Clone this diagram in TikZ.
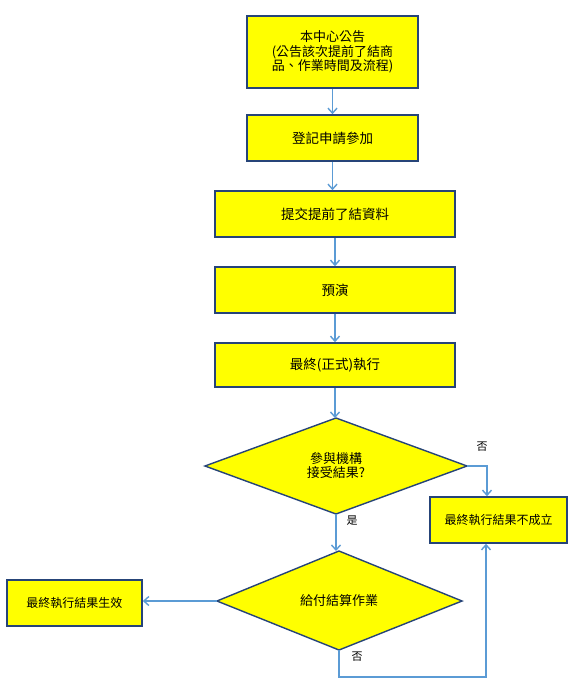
\documentclass[tikz,border=0pt]{standalone}
\usepackage{fontspec}
\newfontfamily\cjk{Noto Sans CJK TC}
\usetikzlibrary{arrows.meta,shapes.geometric}
\definecolor{boxfill}{RGB}{255,255,0}
\definecolor{boxline}{RGB}{38,68,120}
\definecolor{arrowc}{RGB}{91,155,213}
\tikzset{
  stepbox/.style={draw=boxline, fill=boxfill, line width=1.6pt, inner sep=0pt, font=\cjk\fontsize{13.5}{15}\selectfont, align=center},
  smallbox/.style={stepbox, font=\cjk\fontsize{12}{14}\selectfont},
  decide/.style={draw=boxline, fill=boxfill, line width=1.4pt},
  dtext/.style={font=\cjk\fontsize{13}{14}\selectfont, align=center},
  conn/.style={draw=arrowc, line width=1.6pt, -{Straight Barb[length=5pt,width=9pt,line width=1.4pt]}},
  lab/.style={font=\cjk\fontsize{11}{12}\selectfont}
}
\begin{document}
\begin{tikzpicture}[x=1pt,y=-1pt]
\useasboundingbox[fill=white] (0,0) rectangle (574,694);
\node[stepbox, font=\cjk\fontsize{13}{14.5}\selectfont, minimum width=171pt, minimum height=72pt] (a) at (332.5,52) {本中心公告\\(公告該次提前了結商\\品、作業時間及流程)};
\node[stepbox, minimum width=171pt, minimum height=46pt] (b) at (332.5,138) {登記申請參加};
\node[stepbox, minimum width=240pt, minimum height=46pt] (c) at (335,214) {提交提前了結資料};
\node[stepbox, minimum width=240pt, minimum height=46pt] (d) at (335,290) {預演};
\node[stepbox, minimum width=240pt, minimum height=44pt] (e) at (335,365) {最終(正式)執行};
\path[decide] (205,466) coordinate (d1w) -- (336,418) coordinate (d1n) -- (467,466) coordinate (d1e) -- (336,514) coordinate (d1s) -- cycle;
\node[dtext] (d1) at (336,466) {參與機構\\接受結果?};
\node[smallbox, minimum width=137pt, minimum height=46pt] (f) at (498.5,520) {最終執行結果不成立};
\path[decide] (217,601) coordinate (d2w) -- (339,551) coordinate (d2n) -- (462,601) coordinate (d2e) -- (339,650) coordinate (d2s) -- cycle;
\node[dtext] (d2) at (339,601) {給付結算作業};
\node[smallbox, minimum width=135pt, minimum height=46pt] (g) at (74.5,603) {最終執行結果生效};
\draw[conn] (a.south) -- (b.north);
\draw[conn] (b.south) -- (b.south |- c.north);
\draw[conn] (c.south) -- (d.north);
\draw[conn] (d.south) -- (e.north);
\draw[conn] (e.south) -- (e.south |- d1n);
\draw[conn] (d1e) -| (f.north -| 487,0);
\draw[conn] (d1s) -- (d1s |- d2n);
\draw[conn, line width=2.4pt] (d2w) -- (g.east |- d2w);
\draw[conn] (d2s) -- (339,677) -| (f.south -| 486,0);
\node[lab] (l1) at (482,447) {否};
\node[lab] (l2) at (352,521) {是};
\node[lab] (l3) at (357,657) {否};
\end{tikzpicture}
\end{document}
